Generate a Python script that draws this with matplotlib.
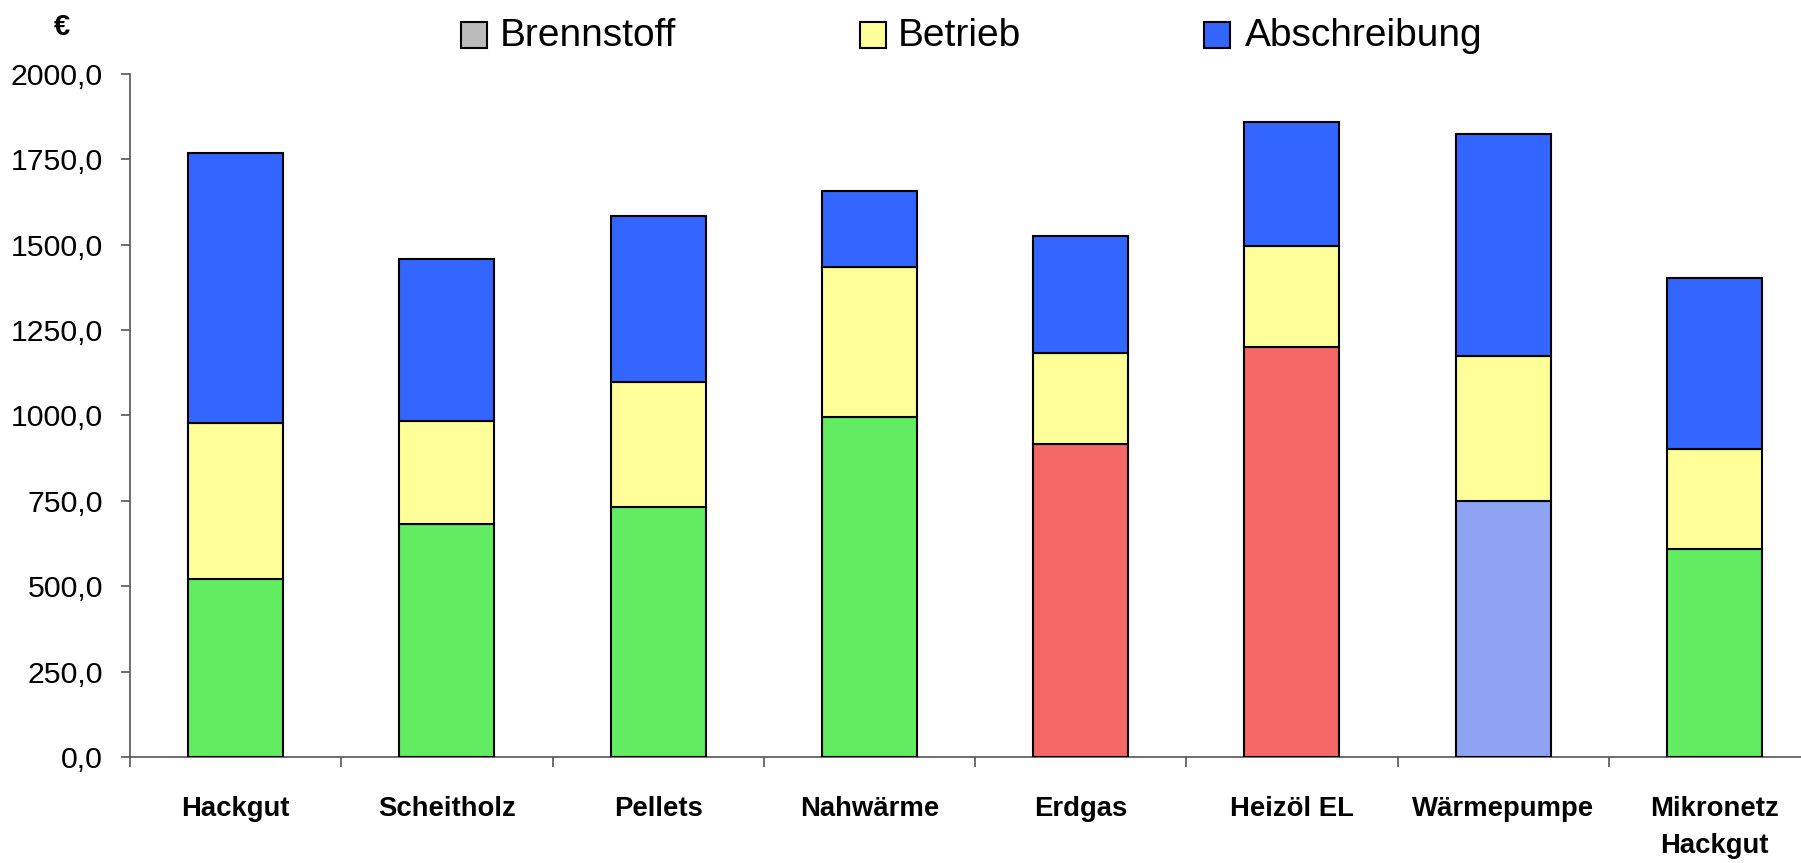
import matplotlib
matplotlib.use("Agg")
import matplotlib.pyplot as plt
from matplotlib.patches import Rectangle
import numpy as np

plt.rcParams['font.family'] = ['Liberation Sans', 'DejaVu Sans']

categories = ["Hackgut", "Scheitholz", "Pellets", "Nahwärme", "Erdgas",
              "Heizöl EL", "Wärmepumpe", "Mikronetz\nHackgut"]
brennstoff = [521, 682, 733, 995, 918, 1200, 750, 608]
betrieb = [457, 303, 366, 440, 265, 296, 423, 293]
abschreibung = [790, 474, 484, 222, 343, 363, 652, 501]
brennstoff_colors = ["#62ec62", "#62ec62", "#62ec62", "#62ec62",
                     "#f46868", "#f46868", "#8ea4f2", "#62ec62"]
legend_labels = ["Brennstoff", "Betrieb", "Abschreibung"]
legend_colors = ["#bbbbbb", "#FFFF99", "#3366FF"]
yticks = [0, 250, 500, 750, 1000, 1250, 1500, 1750, 2000]

W, H = 1801, 863
fig = plt.figure(figsize=(W / 100, H / 100), dpi=100)
left, right, bottom, top = 130, 1820, 757, 74
ax = fig.add_axes([left / W, 1 - bottom / H, (right - left) / W, (bottom - top) / H])

x = np.arange(len(categories))
bw = 0.45
b = np.array(brennstoff)
t = np.array(betrieb)
a = np.array(abschreibung)
ax.bar(x, b, bw, color=brennstoff_colors, edgecolor="black", linewidth=1.5, zorder=3)
ax.bar(x, t, bw, bottom=b, color="#FFFF99", edgecolor="black", linewidth=1.5, zorder=3)
ax.bar(x, a, bw, bottom=b + t, color="#3366FF", edgecolor="black", linewidth=1.5, zorder=3)

ax.set_xlim(-0.5, len(categories) - 0.5)
ax.set_ylim(0, 2000)
for s in ["top", "right"]:
    ax.spines[s].set_visible(False)
for s in ["left", "bottom"]:
    ax.spines[s].set_color("#555555")
    ax.spines[s].set_linewidth(1.2)

ax.set_yticks(yticks)
ax.set_yticklabels([f"{v:.1f}".replace(".", ",") for v in yticks], fontsize=21.8)
ax.tick_params(axis="y", length=6.5, width=1.2, color="#555555", pad=13)

ax.set_xticks(x)
ax.set_xticklabels(categories, fontsize=19.8, fontweight="bold", linespacing=1.55)
ax.tick_params(axis="x", which="major", length=0, pad=28)
ax.set_xticks(np.arange(-0.5, len(categories), 1.0), minor=True)
ax.tick_params(axis="x", which="minor", length=7, width=1.2, color="#555555")

fig.text(62 / W, 1 - 27 / H, "€", fontsize=21, fontweight="bold", ha="center", va="center")

# legend drawn manually at measured positions
patch_x = [461, 860, 1204]
text_x = [500, 898, 1245]
psize = 26
pcy = 35.5
for px, tx, lab, col in zip(patch_x, text_x, legend_labels, legend_colors):
    fig.patches.append(Rectangle((px / W, 1 - (pcy + psize / 2) / H), psize / W, psize / H,
                                 transform=fig.transFigure, facecolor=col,
                                 edgecolor="black", linewidth=1.5))
    fig.text(tx / W, 1 - (pcy + 1) / H, lab, fontsize=28, ha="left", va="center")

fig.savefig("out.png", dpi=100)
